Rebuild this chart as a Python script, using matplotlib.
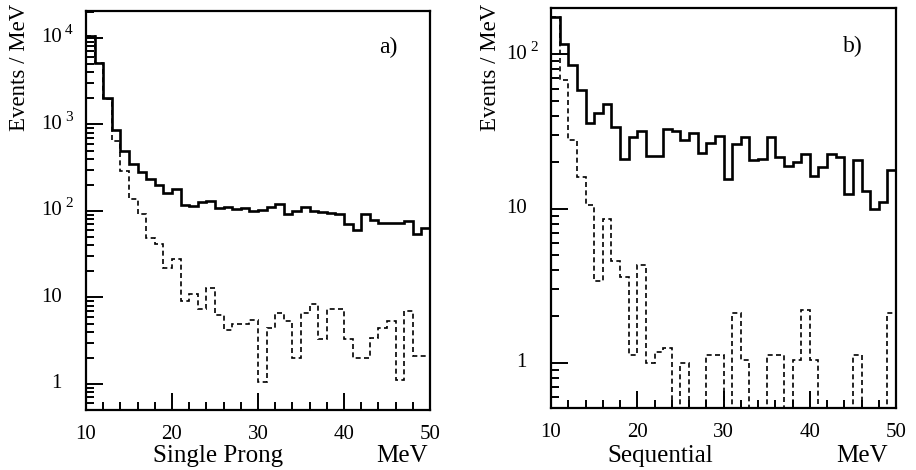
import matplotlib
matplotlib.use('Agg')
import matplotlib.pyplot as plt
import matplotlib.ticker as mticker
import matplotlib.transforms as mtransforms
import numpy as np

plt.rcParams['font.family'] = ['Liberation Serif', 'DejaVu Serif']

# 1 MeV bins from 10 to 50 MeV
EDGES = np.arange(10, 51, 1)

# panel a) single prong: all events (solid) and background (dashed)
single_prong_all = [10500, 5200, 2000, 860, 495, 347, 283, 234, 200, 160,
                    180, 117, 113, 128, 130, 108, 112, 106, 109, 100,
                    103, 110, 121, 92, 100, 110, 101, 98, 94, 92,
                    70, 61, 92, 78, 73, 72, 73, 76, 54, 64]
single_prong_bkg = [10500, 5200, 1950, 645, 290, 136, 92, 49, 41, 22,
                    28, 9.0, 11, 7.4, 13, 6.2, 4.2, 5.0, 5.0, 5.5,
                    1.05, 4.4, 6.6, 5.3, 2.0, 6.6, 8.3, 3.3, 7.4, 7.4,
                    3.3, 2.0, 2.0, 3.4, 4.4, 5.3, 1.1, 6.9, 2.1, 2.1]

# panel b) sequential
sequential_all = [176, 117, 85, 59, 36, 42, 48, 34, 21, 29,
                  32, 22, 22, 33, 32, 28, 31, 23, 26.5, 29.5,
                  15.6, 26.3, 29, 20.6, 21, 29, 21.6, 19, 20, 22.5,
                  16.4, 18.6, 22.5, 21.6, 12.5, 20.6, 13, 10, 11, 17.7]
sequential_bkg = [176, 68, 28, 16, 10.5, 3.4, 8.6, 4.6, 3.6, 1.12,
                  4.3, 1.0, 1.17, 1.24, 0, 1.0, 0, 0, 1.13, 1.13,
                  0, 2.1, 1.04, 0, 0, 1.13, 1.13, 0, 1.05, 2.2,
                  1.04, 0, 0, 0, 0, 1.13, 0, 0, 0, 2.1]

A_DECADES = [0, 1, 2, 3, 4]
B_DECADES = [0, 1, 2]
X_MAJOR = [10, 20, 30, 40, 50]


def decade_labels(fig, ax, decades):
    trans = mtransforms.blended_transform_factory(ax.transAxes, ax.transData)
    for d in decades:
        base = '1' if d == 0 else '10'
        t = mtransforms.offset_copy(trans, fig=fig, x=-24, y=0, units='dots')
        ax.text(0, 10.0 ** d, base, transform=t, ha='right', va='center',
                fontsize=15)
        if d > 1:
            ts = mtransforms.offset_copy(trans, fig=fig, x=-21, y=7, units='dots')
            ax.text(0, 10.0 ** d, str(d), transform=ts, ha='left',
                    va='center', fontsize=11)


def style_axes(fig, ax, ylim, decades):
    ax.set_yscale('log', nonpositive='clip')
    ax.set_xlim(10, 50)
    ax.set_ylim(*ylim)
    ax.yaxis.set_major_locator(mticker.LogLocator(base=10, numticks=20))
    ax.yaxis.set_minor_locator(mticker.LogLocator(base=10, subs=np.arange(2, 10),
                                                  numticks=20))
    ax.yaxis.set_major_formatter(mticker.NullFormatter())
    ax.yaxis.set_minor_formatter(mticker.NullFormatter())
    ax.set_xticks(X_MAJOR)
    ax.xaxis.set_minor_locator(mticker.MultipleLocator(2))
    ax.tick_params(which='major', direction='in', length=12.5, width=1.4,
                   labelsize=15, pad=10.5)
    ax.tick_params(which='minor', direction='in', length=5.5, width=1.4)
    ax.tick_params(right=False, top=False, which='both')
    for sp in ax.spines.values():
        sp.set_linewidth(1.6)
    decade_labels(fig, ax, decades)


fig = plt.figure(figsize=(9.16, 4.70), dpi=100)
ax_a = fig.add_axes([86 / 916, 60 / 470, 344 / 916, 399 / 470])
ax_b = fig.add_axes([551 / 916, 62 / 470, 345 / 916, 400 / 470])

ax_a.stairs(single_prong_all, EDGES, baseline=None, color='black', lw=1.9)
ax_a.stairs(single_prong_bkg, EDGES, baseline=None, color='black', lw=1.2,
            linestyle=(0, (3, 2)))
style_axes(fig, ax_a, (0.5, 2.05e4), A_DECADES)

ax_b.stairs(sequential_all, EDGES, baseline=None, color='black', lw=1.9)
ax_b.stairs(sequential_bkg, EDGES, baseline=None, color='black', lw=1.2,
            linestyle=(0, (3, 2)))
style_axes(fig, ax_b, (0.51, 200), B_DECADES)

fig.text(20 / 916, 1 - 4 / 470, 'Events / MeV', rotation=90, ha='center',
         va='top', fontsize=16.5)
fig.text(490 / 916, 1 - 4 / 470, 'Events / MeV', rotation=90, ha='center',
         va='top', fontsize=16.5)
fig.text(218 / 916, 1 - 456 / 470, 'Single Prong', ha='center', va='center',
         fontsize=18)
fig.text(402 / 916, 1 - 456 / 470, 'MeV', ha='center', va='center', fontsize=18)
fig.text(660 / 916, 1 - 456 / 470, 'Sequential', ha='center', va='center',
         fontsize=18)
fig.text(862 / 916, 1 - 456 / 470, 'MeV', ha='center', va='center', fontsize=18)
fig.text(388 / 916, 1 - 47 / 470, 'a)', ha='center', va='center', fontsize=17)
fig.text(853 / 916, 1 - 46 / 470, 'b)', ha='center', va='center', fontsize=17)

fig.savefig('out.png', dpi=100)
